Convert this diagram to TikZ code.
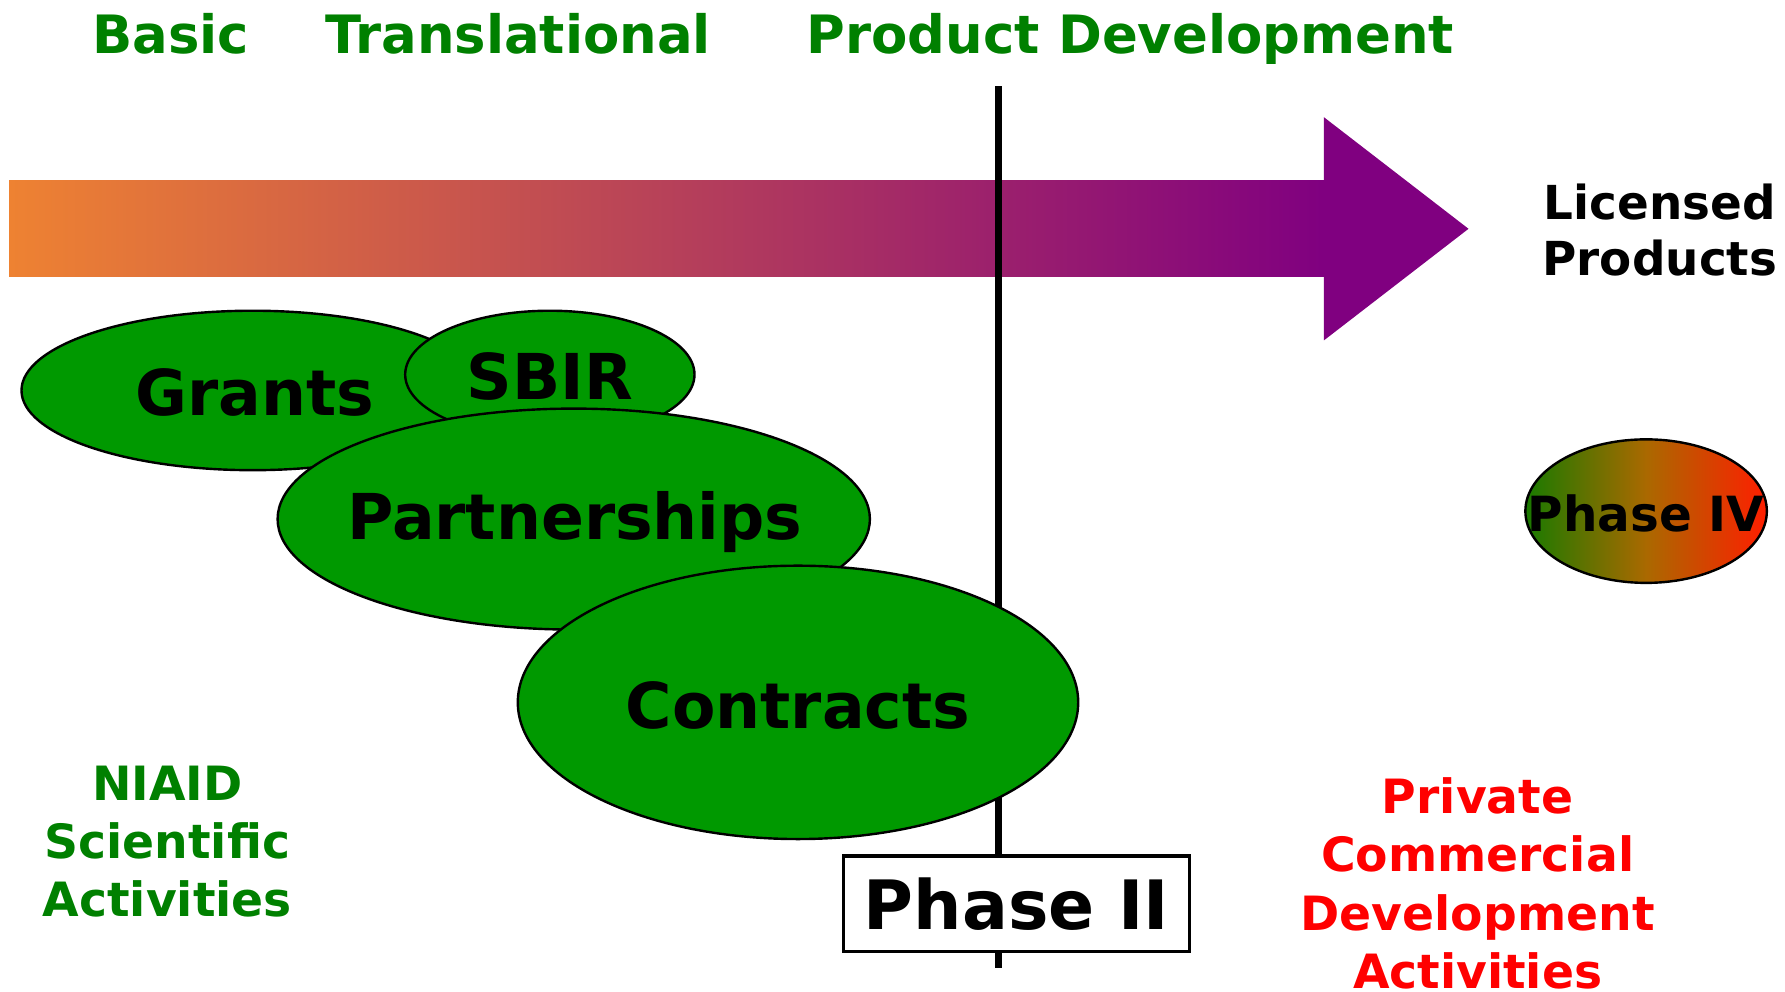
\documentclass[tikz,border=0pt]{standalone}
\usepackage{fontspec}
\setmainfont{DejaVu Sans}
\usetikzlibrary{shapes.geometric}
\definecolor{hdgreen}{RGB}{0,128,0}
\definecolor{fillgreen}{RGB}{0,153,0}
\definecolor{arrorange}{RGB}{238,130,50}
\definecolor{arrpurple}{RGB}{128,0,128}
\definecolor{pfourgreen}{RGB}{25,122,0}
\definecolor{pfourmid}{RGB}{170,105,0}
\definecolor{pfourred}{RGB}{255,30,0}
\definecolor{privred}{RGB}{255,0,0}
\begin{document}
\begin{tikzpicture}[x=0.01cm,y=-0.01cm,
  hdr/.style={font=\fontsize{13.2}{15}\selectfont\bfseries, text=hdgreen, inner sep=0, anchor=base},
  blob/.style={ellipse, draw=black, line width=0.6pt, fill=fillgreen, inner sep=0},
  blobtext/.style={inner sep=0, font=\fontsize{15.8}{18}\selectfont\bfseries},
  side/.style={font=\fontsize{11.8}{14.5}\selectfont\bfseries, align=center, inner sep=0}]
\useasboundingbox (0,0) rectangle (1568,871);
% headers
\node[hdr] (basic) at (150,47) {Basic};
\node[hdr] (transl) at (455,47) {Translational};
\node[hdr] (proddev) at (993,47) {Product Development};
% arrow
\shade[left color=arrorange, right color=arrpurple] (8,159) rectangle (1163,243);
\fill[arrpurple] (1163,103) -- (1290,201) -- (1163,299) -- cycle;
% divider line
\coordinate (ltop) at (877,76);
\coordinate (lbot) at (877,850);
\draw[line width=1.8pt] (ltop) -- (lbot);
% ellipses
\node[blob, minimum width=4.06cm, minimum height=1.40cm] (grants) at (222,343) {};
\node[blobtext] (grantsT) at (224,345) {Grants};
\node[blob, minimum width=2.54cm, minimum height=1.12cm] (sbir) at (483,329) {};
\node[blobtext] (sbirT) at (483,331) {SBIR};
\node[blob, minimum width=5.20cm, minimum height=1.94cm] (partner) at (504,456) {};
\node[blobtext] (partnerT) at (505,459) {Partnerships};
\node[blob, minimum width=4.92cm, minimum height=2.40cm] (contracts) at (701,617) {};
\node[blobtext] (contractsT) at (701,620) {Contracts};
% phase II box
\node[draw=black, line width=0.8pt, fill=white, minimum width=3.04cm, minimum height=0.84cm,
      inner sep=0, font=\fontsize{17}{19}\selectfont\bfseries] (phaseII) at (893,794) {Phase II};
% phase IV
\node[ellipse, draw=black, line width=0.6pt, left color=pfourgreen, right color=pfourred, middle color=pfourmid,
      minimum width=2.12cm, minimum height=1.26cm, inner sep=0] (phaseIV) at (1446,449) {};
\node[inner sep=0, font=\fontsize{12.1}{14}\selectfont\bfseries] (phaseIVT) at (1446,451) {Phase IV};
% side labels
\node[side, font=\fontsize{11.7}{13.9}\selectfont\bfseries] (licensed) at (1458,202) {Licensed\\Products};
\node[side, text=hdgreen] (niaid) at (147,739) {NIAID\\Scientific\\Activities};
\node[side, text=privred] (private) at (1298,776) {Private\\Commercial\\Development\\Activities};
\end{tikzpicture}
\end{document}
